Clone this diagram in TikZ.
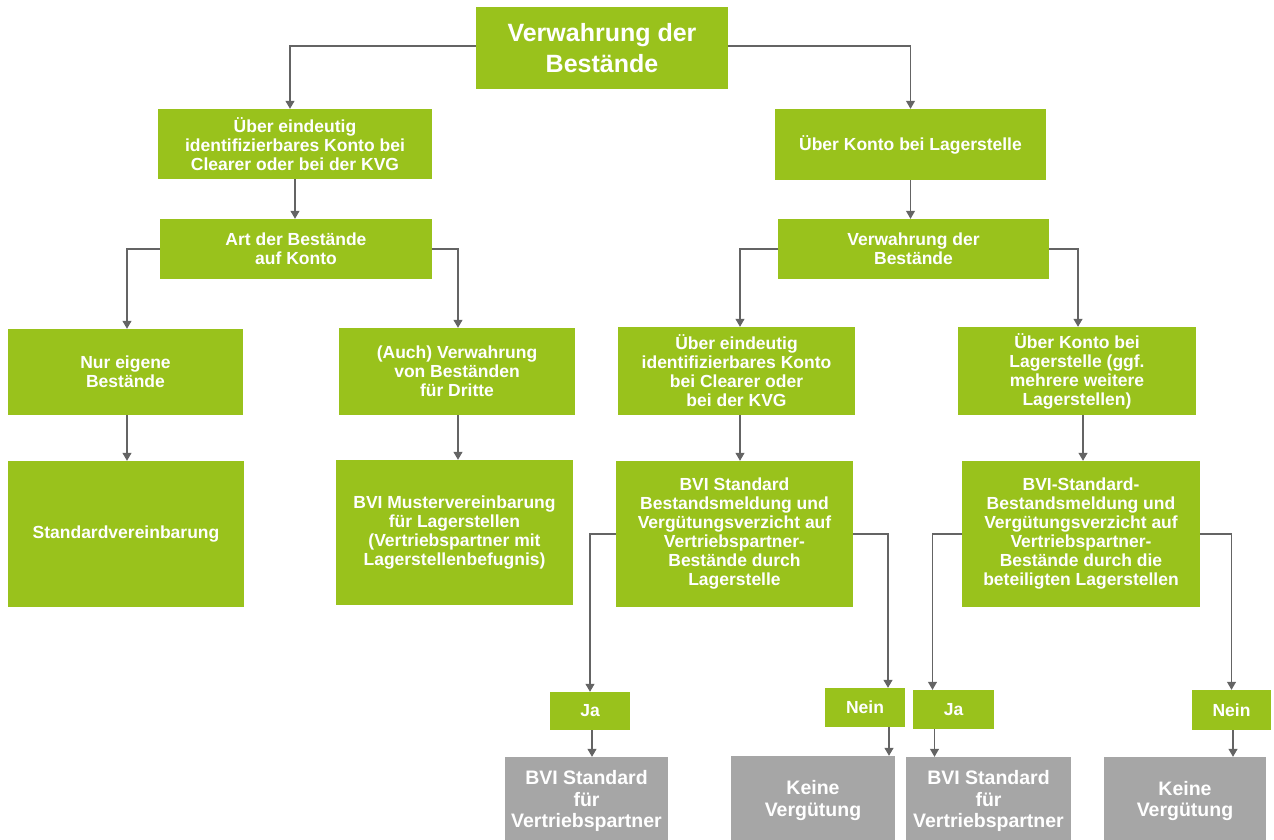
\documentclass[tikz,border=0pt]{standalone}
\usepackage{fontspec}
\setmainfont{Liberation Sans}
\usetikzlibrary{arrows.meta,calc}
\definecolor{bgreen}{RGB}{153,194,28}
\definecolor{bgray}{RGB}{166,166,166}
\definecolor{lgray}{RGB}{100,100,100}
\begin{document}
\begin{tikzpicture}[x=1pt,y=-1pt,
  gbox/.style={fill=bgreen,draw=none,text=white,align=center,inner sep=2pt,
    font=\bfseries\fontsize{17.5}{19}\selectfont},
  graybox/.style={fill=bgray,draw=none,text=white,align=center,inner sep=2pt,
    font=\bfseries\fontsize{19.5}{21.5}\selectfont},
  conn/.style={draw=lgray,line width=1.1pt,-{Triangle[width=9pt,length=8pt]}},
  sz/.style 2 args={minimum width=#1,minimum height=#2}]
\useasboundingbox (0,0) rectangle (1274,840);
\begin{scope}
\clip (0,0) rectangle (1274,840);
\node[gbox,sz={252}{82},font=\bfseries\fontsize{25}{31}\selectfont] (top) at (602,48) {Verwahrung der\\Bestände};
\node[gbox,sz={274}{70}] (L1) at (295,144) {Über eindeutig\\identifizierbares Konto bei\\Clearer oder bei der KVG};
\node[gbox,sz={271}{71}] (R1) at (910.5,144.5) {Über Konto bei Lagerstelle};
\node[gbox,sz={272}{60}] (L2) at (296,249) {Art der Bestände\\auf Konto};
\node[gbox,sz={271}{60}] (R2) at (913.5,249) {Verwahrung der\\Bestände};
\node[gbox,sz={235}{86}] (LL3) at (125.5,372) {Nur eigene\\Bestände};
\node[gbox,sz={236}{87}] (LR3) at (457,371.5) {(Auch) Verwahrung\\von Beständen\\für Dritte};
\node[gbox,sz={236}{146}] (LL4) at (126,534) {Standardvereinbarung};
\node[gbox,sz={237}{145}] (LR4) at (454.5,532.5) {BVI Mustervereinbarung\\für Lagerstellen\\(Vertriebspartner mit\\Lagerstellenbefugnis)};
\node[gbox,sz={237}{88}] (RL3) at (736.5,371) {Über eindeutig\\identifizierbares Konto\\bei Clearer oder\\bei der KVG};
\node[gbox,sz={238}{88}] (RR3) at (1077,371) {Über Konto bei\\Lagerstelle (ggf.\\mehrere weitere\\Lagerstellen)};
\node[gbox,sz={237}{146}] (RL4) at (734.5,534) {BVI Standard\\Bestandsmeldung und\\Vergütungsverzicht auf\\Vertriebspartner-\\Bestände durch\\Lagerstelle};
\node[gbox,sz={238}{146}] (RR4) at (1081,534) {BVI-Standard-\\Bestandsmeldung und\\Vergütungsverzicht auf\\Vertriebspartner-\\Bestände durch die\\beteiligten Lagerstellen};
\node[gbox,sz={80}{38}] (Ja1) at (590,711) {Ja};
\node[gbox,sz={80}{39}] (Nein1) at (865,707.5) {Nein};
\node[gbox,sz={81}{39}] (Ja2) at (953.5,709.5) {Ja};
\node[gbox,sz={79}{40}] (Nein2) at (1231.5,710) {Nein};
\node[graybox,sz={163}{88}] (G1) at (586.5,801) {BVI Standard\\für\\Vertriebspartner};
\node[graybox,sz={164}{89}] (G2) at (813,800.5) {Keine\\Vergütung};
\node[graybox,sz={165}{88}] (G3) at (988.5,801) {BVI Standard\\für\\Vertriebspartner};
\node[graybox,sz={162}{88}] (G4) at (1185,801) {Keine\\Vergütung};
\end{scope}
% connector end points
\coordinate (a1) at ($(L1.north)+(-5,0)$);
\coordinate (a2) at ($(LL3.north)+(1.5,0)$);
\coordinate (a3) at ($(LR3.north)+(1,0)$);
\coordinate (a4) at ($(RL3.north)+(3.5,0)$);
\coordinate (a5) at ($(RR3.north)+(1,0)$);
\coordinate (n1) at ($(Nein1.north)+(23,0)$);
\coordinate (j2) at ($(Ja2.north)+(-21,0)$);
\coordinate (tw) at ($(top.west)+(0,-2)$);
\coordinate (te) at ($(top.east)+(0,-2)$);
\draw[conn] (tw) -| (a1);
\draw[conn] (te) -| (R1.north);
\draw[conn] (L1.south) -- (L1.south |- L2.north);
\draw[conn] (R1.south) -- (R1.south |- R2.north);
\draw[conn] (L2.west) -| (a2);
\draw[conn] (L2.east) -| (a3);
\draw[conn] (R2.west) -| (a4);
\draw[conn] (R2.east) -| (a5);
\draw[conn] (a2 |- LL3.south) -- (a2 |- LL4.north);
\draw[conn] (a3 |- LR3.south) -- (a3 |- LR4.north);
\draw[conn] (a4 |- RL3.south) -- (a4 |- RL4.north);
\draw[conn] ($(RR3.south)+(6,0)$) -- ($(RR3.south |- RR4.north)+(6,0)$);
\draw[conn] (RL4.west) -| (Ja1.north);
\draw[conn] (RL4.east) -| (n1);
\draw[conn] (RR4.west) -| (j2);
\draw[conn] (RR4.east) -| (Nein2.north);
\draw[conn] ($(Ja1.south)+(2,0)$) -- ($(Ja1.south |- G1.north)+(2,0)$);
\draw[conn] ($(Nein1.south)+(24,0)$) -- ($(Nein1.south |- G2.north)+(24,0)$);
\draw[conn] ($(Ja2.south)+(-19,0)$) -- ($(Ja2.south |- G3.north)+(-19,0)$);
\draw[conn] ($(Nein2.south)+(1.5,0)$) -- ($(Nein2.south |- G4.north)+(1.5,0)$);
\end{tikzpicture}
\end{document}
